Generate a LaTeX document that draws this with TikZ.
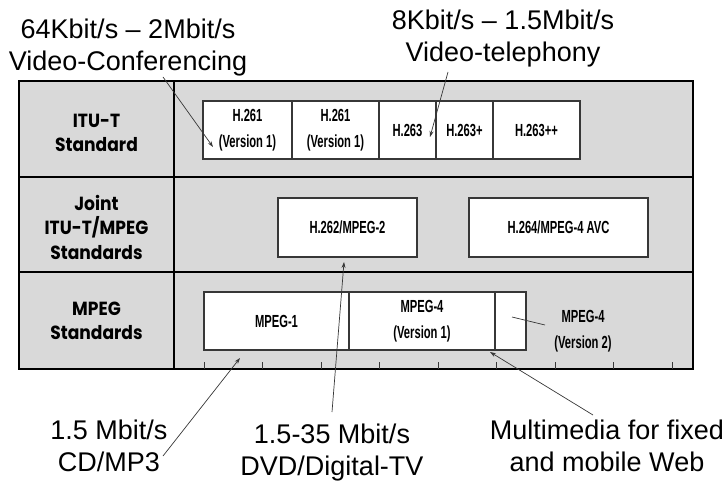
\documentclass[tikz,border=0pt]{standalone}
\usepackage{fontspec}
\setmainfont{Liberation Sans}
\newfontfamily\boxfont[FakeStretch=0.64]{Liberation Sans}
\newfontfamily\headfont[FakeStretch=0.9]{Poppins}
\usepackage{tikz}
\usetikzlibrary{positioning,arrows.meta}
\definecolor{panelgray}{RGB}{217,217,217}
\definecolor{edgegray}{RGB}{55,55,55}
\tikzstyle{std}=[%
      rectangle, draw=edgegray, line width=1.1pt, fill=white, outer sep=0pt,
      minimum height=58pt, inner sep=0pt, align=center,
      font=\boxfont\bfseries\fontsize{17.5}{26}\selectfont
]
\tikzstyle{stdtwo}=[%
      std, execute at begin node={\rule{0pt}{23pt}}
]
\tikzstyle{hd}=[%
      align=center, inner sep=0pt,
      font=\headfont\bfseries\fontsize{19}{24.5}\selectfont
]
\tikzstyle{note}=[%
      align=center, inner sep=0pt,
      font=\fontsize{27}{32}\selectfont
]
\tikzstyle{lead}=[%
      draw=edgegray, line width=0.7pt, -{Stealth[length=6pt,width=4pt]}
]

\begin{document}
\begin{tikzpicture}[x=1pt, y=-1pt]
    \useasboundingbox (0,0) rectangle (725,481);

    % panel and grid
    \draw[fill=panelgray, line width=2.6pt] (19,81) rectangle (693,369);
    \draw[line width=1.4pt] (174,81) -- (174,369);
    \draw[line width=1.8pt] (19,177) -- (693,177)
                            (19,272) -- (693,272);
    \foreach \i in {0,...,8}
      \draw[edgegray, line width=0.6pt] ({204+58.5*\i},362) -- ({204+58.5*\i},369);

    % row headings
    \node[hd] (itu)   at (96.5,133) {ITU-T\\Standard};
    \node[hd] (joint) at (96.5,227) {Joint\\ITU-T/MPEG\\Standards};
    \node[hd] (mpeg)  at (96.5,321) {MPEG\\Standards};

    % ITU-T row
    \node[stdtwo, anchor=north west, minimum width=89pt] (h261a) at (203,101) {H.261\\(Version 1)};
    \node[stdtwo, minimum width=87pt] (h261b) [right=0pt of h261a] {H.261\\(Version 1)};
    \node[std, minimum width=57pt] (h263)   [right=0pt of h261b] {H.263};
    \node[std, minimum width=57pt] (h263p)  [right=0pt of h263]  {H.263+};
    \node[std, minimum width=87pt] (h263pp) [right=0pt of h263p] {H.263++};

    % joint row
    \node[std, anchor=north west, minimum width=139pt, minimum height=59pt] (h262) at (278,198) {H.262/MPEG-2};
    \node[std, anchor=north west, minimum width=179pt, minimum height=59pt] (h264) at (469,198) {H.264/MPEG-4 AVC};

    % MPEG row
    \node[std, anchor=north west, minimum width=145pt] (mp1) at (204,292) {MPEG-1};
    \node[stdtwo, minimum width=146pt] (mp4a) [right=0pt of mp1] {MPEG-4\\(Version 1)};
    \node[std, minimum width=31pt]  (mp4b) [right=0pt of mp4a] {};
    \node[std, draw=none, fill=none, minimum height=0pt] (mp4c) at (583,331) {MPEG-4\\(Version 2)};

    % rates and uses
    \node[note] (vc)  at (128,47.5) {64Kbit/s – 2Mbit/s\\Video-Conferencing};
    \node[note] (vt)  at (503,38.5) {8Kbit/s – 1.5Mbit/s\\Video-telephony};
    \node[note] (cd)  at (109,446)  {1.5 Mbit/s\\CD/MP3};
    \node[note] (dvd) at (332,453)  {1.5-35 Mbit/s\\DVD/Digital-TV};
    \node[note] (mm)  at (607,446)  {Multimedia for fixed\\and mobile Web};

    \coordinate (vcfoot)  at (163,77);
    \coordinate (vctip)   at (213,147);
    \coordinate (vtfoot)  at (448,72);
    \coordinate (vttip)   at (430,137);
    \coordinate (cdfoot)  at (163,456);
    \coordinate (cdtip)   at (240,358);
    \coordinate (dvdfoot) at (332,412);
    \coordinate (dvdtip)  at (344,262);
    \coordinate (mmfoot)  at (593,415);
    \coordinate (mmtip)   at (490,352);
    \coordinate (v2foot)  at (545,325);
    \coordinate (v2end)   at (512,317);

    \draw[lead] (vcfoot) -- (vctip);
    \draw[lead] (vtfoot) -- (vttip);
    \draw[lead] (cdfoot) -- (cdtip);
    \draw[lead] (dvdfoot) -- (dvdtip);
    \draw[lead] (mmfoot) -- (mmtip);
    \draw[edgegray, line width=0.7pt] (v2foot) -- (v2end);
\end{tikzpicture}
\end{document}
